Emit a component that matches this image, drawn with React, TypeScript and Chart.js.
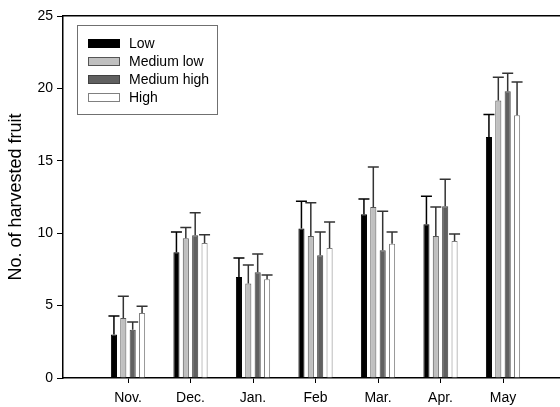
import React, { useEffect, useRef } from 'react';
import { Chart, registerables } from 'chart.js';

Chart.register(...registerables);

const months = ['Nov.', 'Dec.', 'Jan.', 'Feb', 'Mar.', 'Apr.', 'May'];
const seriesNames = ['Low', 'Medium low', 'Medium high', 'High'];
const low = [3.0, 8.68, 6.98, 10.32, 11.31, 10.61, 16.64];
const lowErr = [1.28, 1.4, 1.31, 1.88, 1.05, 1.94, 1.55];
const medLow = [4.14, 9.65, 6.52, 9.81, 11.81, 9.81, 19.16];
const medLowErr = [1.5, 0.74, 1.28, 2.3, 2.76, 2.0, 1.61];
const medHigh = [3.34, 9.86, 7.3, 8.47, 8.82, 11.86, 19.8];
const medHighErr = [0.53, 1.56, 1.26, 1.61, 2.69, 1.86, 1.24];
const high = [4.49, 9.32, 6.82, 8.98, 9.28, 9.46, 18.14];
const highErr = [0.46, 0.58, 0.29, 1.79, 0.8, 0.48, 2.3];
const yTickValues = [0, 5, 10, 15, 20, 25];

const FONT = 'Arial, "Liberation Sans", sans-serif';

const fills = ['#000000', '#c0c0c0', '#606060', '#ffffff'];
const borders = ['#000000', '#555555', '#404040', '#808080'];
const errColors = ['#000000', '#333333', '#333333', '#333333'];

const errorBarPlugin = {
  id: 'errorBars',
  afterDatasetsDraw(chart: any) {
    const ctx = chart.ctx;
    const yScale = chart.scales.y;
    chart.data.datasets.forEach((ds: any, d: number) => {
      const meta = chart.getDatasetMeta(d);
      meta.data.forEach((bar: any, i: number) => {
        const v = ds.data[i].y;
        const e = ds.errors[i];
        const top = yScale.getPixelForValue(v + e);
        ctx.save();
        ctx.strokeStyle = ds.errorColor;
        ctx.lineWidth = 1.5;
        ctx.beginPath();
        ctx.moveTo(bar.x, bar.y);
        ctx.lineTo(bar.x, top);
        ctx.moveTo(bar.x - 5.5, top);
        ctx.lineTo(bar.x + 5.5, top);
        ctx.stroke();
        ctx.restore();
      });
    });
  },
};

const boxLegendPlugin = {
  id: 'boxLegend',
  afterDraw(chart: any) {
    const ctx = chart.ctx;
    const area = chart.chartArea;
    const bx = area.left + 14;
    const by = area.top + 9;
    const bw = 140;
    const bh = 89;
    ctx.save();
    ctx.strokeStyle = '#707070';
    ctx.lineWidth = 1;
    ctx.strokeRect(Math.round(bx) + 0.5, Math.round(by) + 0.5, bw, bh);
    ctx.font = `14px ${FONT}`;
    ctx.textBaseline = 'middle';
    ctx.textAlign = 'left';
    chart.data.datasets.forEach((ds: any, d: number) => {
      const cy = by + 18.5 + d * 18;
      const sx = Math.round(bx) + 11;
      const sy = Math.round(cy - 4.5);
      ctx.fillStyle = ds.backgroundColor;
      ctx.fillRect(sx, sy, 32, 9);
      ctx.strokeStyle = ds.borderColor;
      ctx.strokeRect(sx + 0.5, sy + 0.5, 31, 8);
      ctx.fillStyle = '#000000';
      ctx.fillText(ds.label, sx + 41, cy + 0.5);
    });
    ctx.restore();
  },
};

export default function App() {
  const canvasRef = useRef<HTMLCanvasElement | null>(null);

  useEffect(() => {
    document.body.style.margin = '0';
    const canvas = canvasRef.current;
    if (!canvas) return;
    const seriesValues = [low, medLow, medHigh, high];
    const seriesErrors = [lowErr, medLowErr, medHighErr, highErr];
    const datasets = seriesNames.map((name, s) => ({
      label: name,
      data: seriesValues[s].map((v, i) => ({ x: i + 1, y: v })),
      errors: seriesErrors[s],
      errorColor: errColors[s],
      backgroundColor: fills[s],
      borderColor: borders[s],
      borderWidth: 1,
      categoryPercentage: 0.6,
      barPercentage: 0.65,
    }));

    const chart = new Chart(canvas, {
      type: 'bar',
      data: { datasets } as any,
      plugins: [errorBarPlugin, boxLegendPlugin],
      options: {
        animation: false,
        responsive: false,
        devicePixelRatio: 1,
        layout: { padding: { top: 16, right: 0, bottom: 0, left: 0 } },
        plugins: {
          legend: { display: false },
          tooltip: { enabled: false },
        },
        scales: {
          x: {
            type: 'linear',
            position: 'bottom',
            offset: false,
            min: -0.04,
            max: 7.912,
            afterBuildTicks: (axis: any) => {
              axis.ticks = months.map((_, i) => ({ value: i + 1 }));
            },
            afterFit: (axis: any) => {
              axis.height = 29;
            },
            ticks: {
              autoSkip: false,
              maxRotation: 0,
              padding: 7,
              color: '#000000',
              font: { size: 14, family: FONT },
              callback: (value: any) => months[Math.round(value) - 1] ?? '',
            },
            grid: {
              display: true,
              offset: false,
              drawOnChartArea: false,
              drawTicks: true,
              tickLength: 5,
              color: '#000000',
              lineWidth: 1,
            },
            border: { display: true, color: '#000000', width: 1.5 },
          },
          x2: {
            type: 'linear',
            position: 'top',
            offset: false,
            min: -0.04,
            max: 7.912,
            ticks: { display: false },
            grid: { display: false, drawTicks: false, offset: false },
            border: { display: true, color: '#000000', width: 1.5 },
          },
          y: {
            type: 'linear',
            min: 0,
            max: 25,
            afterBuildTicks: (axis: any) => {
              axis.ticks = yTickValues.map((v) => ({ value: v }));
            },
            afterFit: (axis: any) => {
              axis.width = 63;
            },
            ticks: {
              padding: 4,
              color: '#000000',
              font: { size: 14, family: FONT },
            },
            grid: {
              display: true,
              drawOnChartArea: false,
              drawTicks: true,
              tickLength: 6,
              color: '#000000',
              lineWidth: 1,
            },
            border: { display: true, color: '#000000', width: 1.5 },
            title: {
              display: true,
              text: 'No. of harvested fruit',
              color: '#000000',
              font: { size: 18, family: FONT },
              padding: { top: 5, bottom: 0 },
            },
          },
        },
      } as any,
    });
    return () => chart.destroy();
  }, []);

  return (
    <div style={{ position: 'absolute', left: 0, top: 0, width: 560, height: 407 }}>
      <canvas ref={canvasRef} width={560} height={407} />
    </div>
  );
}
